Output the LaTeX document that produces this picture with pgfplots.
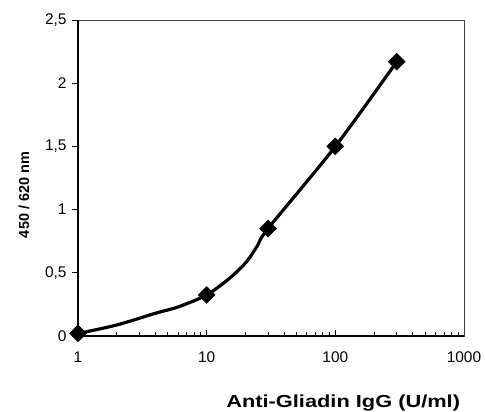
\documentclass[border=0pt]{standalone}
\usepackage{fontspec}
\setmainfont{Liberation Sans}
\newfontfamily\widefont[FakeStretch=1.25]{Liberation Sans}
\usepackage{pgfplots}
\pgfplotsset{compat=1.18}

\begin{document}
\begin{tikzpicture}
\begin{axis}[
  at={(0,0)}, anchor=south west,
  scale only axis, width=386bp, height=316bp,
  xmode=log, xmin=1, xmax=1000,
  ymin=0, ymax=2.5,
  xtick={1,10,100,1000}, xticklabels={1,10,100,1000},
  ytick={0,0.5,1,1.5,2,2.5},
  yticklabel style={/pgf/number format/use comma, xshift=-1.5bp},
  xticklabel style={yshift=-12bp},
  /pgf/number format/assume math mode=true,
  tick label style={font=\fontsize{15.5}{17}\selectfont},
  xtick pos=bottom, ytick pos=left,
  xtick align=inside, ytick align=outside,
  major tick length=6.5bp, minor tick length=4bp,
  every tick/.style={black, line width=0.9pt},
  axis line style={black!75, line width=0.8pt},
  clip=false,
  xlabel={\widefont\bfseries\fontsize{17.5}{19}\selectfont Anti-Gliadin IgG (U/ml)},
  xlabel style={at={(axis description cs:0.687,-0.226)}, anchor=base},
  ylabel={\bfseries\fontsize{14.5}{16}\selectfont 450 / 620 nm},
  ylabel style={at={(axis description cs:-0.14,0.446)}, anchor=center},
]
% standard curve as drawn
\addplot[black, line width=3.2pt, smooth, tension=0.5] coordinates {
  (1,0.02) (2,0.087) (4,0.18) (6,0.23) (10,0.325) (15.2,0.46)
  (20.5,0.59) (25,0.72) (30,0.85) (100,1.50) (300,2.17)};
% calibrators
\addplot[only marks, mark=square*, mark size=6bp,
         mark options={rotate=45, fill=black, draw=black}] coordinates {
  (1,0.02) (10,0.325) (30,0.85) (100,1.50) (300,2.17)};
\draw[black, line width=1.6pt] (rel axis cs:0,1) -- (rel axis cs:0,0) -- (rel axis cs:1,0);
\end{axis}
\pgfresetboundingbox
\path (-78bp,-76bp) rectangle (407bp,336bp);
\end{tikzpicture}
\end{document}
